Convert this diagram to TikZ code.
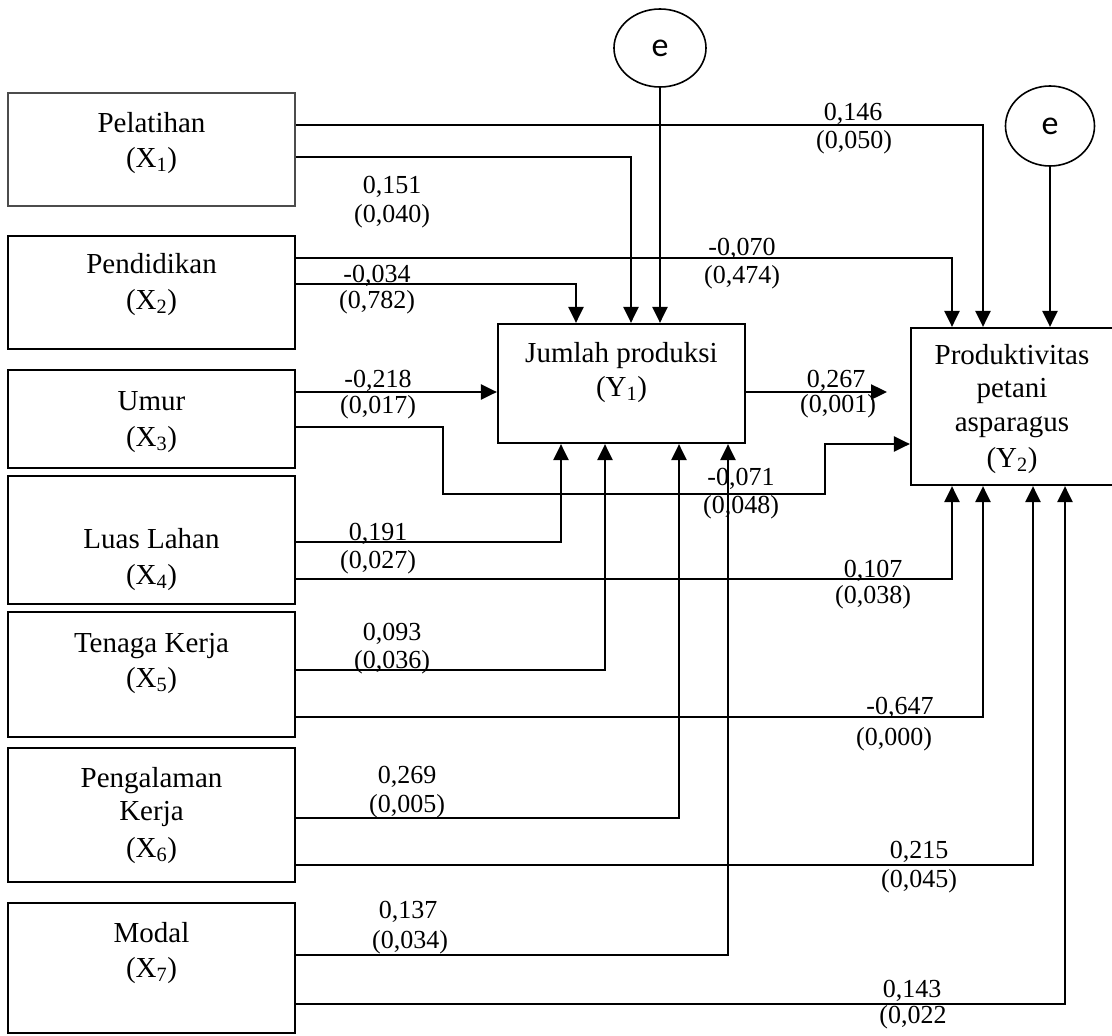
\documentclass[tikz,border=0pt]{standalone}
\usepackage{fontspec}
\setmainfont{Liberation Serif}
\newfontfamily\efont{Carlito}
\usetikzlibrary{arrows.meta,shapes.geometric}
\begin{document}
\begin{tikzpicture}[x=1pt,y=-1pt,
  box/.style={draw, line width=2.2pt, rectangle, inner sep=0pt},
  lightbox/.style={draw=black!70, line width=1.5pt, rectangle, inner sep=0pt},
  err/.style={draw, ellipse, line width=1.6pt, inner sep=0pt, font=\efont\fontsize{34}{38}\selectfont},
  conn/.style={line width=2.4pt},
  arr/.style={conn, -{Triangle[length=16pt,width=15pt]}},
  lab/.style={font=\fontsize{29}{35}\selectfont, anchor=base, inner sep=0pt},
  num/.style={font=\fontsize{26}{31}\selectfont, anchor=base, inner sep=0pt}]
\useasboundingbox (0,0) rectangle (1112,1036);
% boxes
\node[lightbox, minimum width=287pt, minimum height=113pt] (x1) at (151.5,149.5) {};
\node[box, minimum width=287pt, minimum height=113pt] (x2) at (151.5,292.5) {};
\node[box, minimum width=287pt, minimum height=98pt] (x3) at (151.5,419) {};
\node[box, minimum width=287pt, minimum height=128pt] (x4) at (151.5,540) {};
\node[box, minimum width=287pt, minimum height=125pt] (x5) at (151.5,674.5) {};
\node[box, minimum width=287pt, minimum height=134pt] (x6) at (151.5,815) {};
\node[box, minimum width=287pt, minimum height=130pt] (x7) at (151.5,968) {};
\node[box, minimum width=247pt, minimum height=119pt] (y1) at (621.5,383.5) {};
\node[box, minimum width=202pt, minimum height=157pt] (y2) at (1012,406.5) {};
\node[err, minimum width=92pt, minimum height=78pt] (e1) at (660,48) {e};
\node[err, minimum width=89pt, minimum height=80pt] (e2) at (1050,126) {e};
% box texts
\node[lab] (x1a) at (151.5,132) {Pelatihan};
\node[lab] (x1b) at (151.5,167) {(X\textsubscript{1})};
\node[lab] (x2a) at (151.5,273) {Pendidikan};
\node[lab] (x2b) at (151.5,309) {(X\textsubscript{2})};
\node[lab] (x3a) at (151.5,410) {Umur};
\node[lab] (x3b) at (151.5,446) {(X\textsubscript{3})};
\node[lab] (x4a) at (151.5,548) {Luas Lahan};
\node[lab] (x4b) at (151.5,584) {(X\textsubscript{4})};
\node[lab] (x5a) at (151.5,652) {Tenaga Kerja};
\node[lab] (x5b) at (151.5,687) {(X\textsubscript{5})};
\node[lab] (x6a) at (151.5,787) {Pengalaman};
\node[lab] (x6b) at (151.5,820) {Kerja};
\node[lab] (x6c) at (151.5,857) {(X\textsubscript{6})};
\node[lab] (x7a) at (151.5,942) {Modal};
\node[lab] (x7b) at (151.5,977) {(X\textsubscript{7})};
\node[lab] (y1a) at (621.5,362) {Jumlah produksi};
\node[lab] (y1b) at (621.5,396) {(Y\textsubscript{1})};
\node[lab] (y2a) at (1012,364) {Produktivitas};
\node[lab] (y2b) at (1012,397) {petani};
\node[lab] (y2c) at (1012,431) {asparagus};
\node[lab] (y2d) at (1012,467) {(Y\textsubscript{2})};
% connectors
\draw[arr] (x1.east |- 0,125) -| (983,0 |- y2.north);
\draw[arr] (x1.east |- 0,157) -| (631,0 |- y1.north);
\draw[arr] (e1.south) -- (e1.south |- y1.north);
\draw[arr] (e2.south) -- (e2.south |- y2.north);
\draw[arr] (x2.east |- 0,258) -| (952,0 |- y2.north);
\draw[arr] (x2.east |- 0,284) -| (576,0 |- y1.north);
\draw[arr] (x3.east |- 0,392) -- (y1.west |- 0,392);
\draw[arr] (x3.east |- 0,427) -- (443,427) -- (443,494) -- (825,494) -- (825,444) -- (y2.west |- 0,444);
\coordinate (c267) at (887,392);
\draw[arr] (y1.east |- c267) -- (c267);
\draw[arr] (x4.east |- 0,542) -| (561,0 |- y1.south);
\draw[arr] (x4.east |- 0,579) -| (952,0 |- y2.south);
\draw[arr] (x5.east |- 0,670) -| (605,0 |- y1.south);
\draw[arr] (x5.east |- 0,717) -| (983,0 |- y2.south);
\draw[arr] (x6.east |- 0,818) -| (679,0 |- y1.south);
\draw[arr] (x6.east |- 0,865) -| (1033,0 |- y2.south);
\draw[arr] (x7.east |- 0,955) -| (728,0 |- y1.south);
\draw[arr] (x7.east |- 0,1004) -| (1065,0 |- y2.south);
% coefficients
\node[num] (n1a) at (853,120) {0,146};
\node[num] (n1b) at (854,148) {(0,050)};
\node[num] (n2a) at (392,193) {0,151};
\node[num] (n2b) at (392,222) {(0,040)};
\node[num] (n3a) at (742,255) {-0,070};
\node[num] (n3b) at (742,283) {(0,474)};
\node[num] (n4a) at (377,282) {-0,034};
\node[num] (n4b) at (377,308) {(0,782)};
\node[num] (n5a) at (378,387) {-0,218};
\node[num] (n5b) at (378,413) {(0,017)};
\node[num] (n6a) at (836,387) {0,267};
\node[num] (n6b) at (838,412) {(0,001)};
\node[num] (n7a) at (741,485) {-0,071};
\node[num] (n7b) at (741,513) {(0,048)};
\node[num] (n8a) at (378,540) {0,191};
\node[num] (n8b) at (378,568) {(0,027)};
\node[num] (n9a) at (873,577) {0,107};
\node[num] (n9b) at (873,603) {(0,038)};
\node[num] (n10a) at (392,640) {0,093};
\node[num] (n10b) at (392,668) {(0,036)};
\node[num] (n11a) at (900,714) {-0,647};
\node[num] (n11b) at (894,745) {(0,000)};
\node[num] (n12a) at (407,783) {0,269};
\node[num] (n12b) at (407,812) {(0,005)};
\node[num] (n13a) at (919,858) {0,215};
\node[num] (n13b) at (919,887) {(0,045)};
\node[num] (n14a) at (408,918) {0,137};
\node[num] (n14b) at (410,948) {(0,034)};
\node[num] (n15a) at (912,997) {0,143};
\node[num] (n15b) at (913,1023) {(0,022};
\end{tikzpicture}
\end{document}
